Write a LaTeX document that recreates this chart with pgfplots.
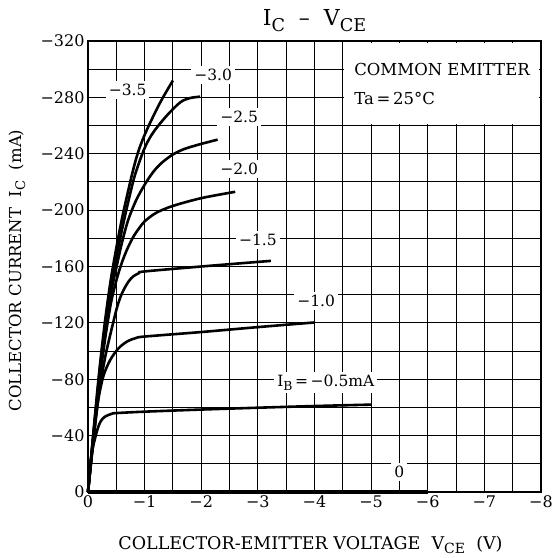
\documentclass[border=0pt]{standalone}
\usepackage{fontspec}
\setmainfont{DejaVu Serif}
\usepackage{graphicx}
\usepackage{pgfplots}
\pgfplotsset{compat=1.18}
\newcommand{\sub}[1]{\raisebox{-0.45ex}{\scalebox{0.8}{#1}}}
\newcommand{\fs}[1]{\fontsize{#1}{#1}\selectfont}
\tikzset{cur/.style={black, solid, line width=2.6bp, smooth, tension=0.5, mark=none}}
\begin{document}
\begin{tikzpicture}
\begin{axis}[name=ax,
 width=453bp, height=451bp, scale only axis,
 xmin=-8, xmax=0, ymin=-320, ymax=0,
 x dir=reverse, y dir=reverse,
 clip=false,
 xtick={0,-1,-2,-3,-4,-5,-6,-7,-8},
 ytick={0,-40,-80,-120,-160,-200,-240,-280,-320},
 minor xtick={-0.5,-1.5,-2.5,-3.5,-4.5,-5.5,-6.5,-7.5},
 minor ytick={-20,-60,-100,-140,-180,-220,-260,-300},
 xticklabels={0,−1,−2,−3,−4,−5,−6,−7,−8},
 yticklabels={0,−40,−80,−120,−160,−200,−240,−280,−320},
 grid=both,
 major grid style={black, line width=1bp},
 minor grid style={black, line width=1bp},
 major tick length=0pt, minor tick length=0pt,
 axis line style={black, line width=1.8bp},
 tick label style={font=\fs{16bp}},
]
% I_B = 0
\addplot[black, line width=3.5bp, sharp plot, mark=none] coordinates {(0,0) (-6,0)};
% I_B = -0.5 mA
\addplot[cur] coordinates {(0,0) (-0.04,-18) (-0.08,-30) (-0.13,-39) (-0.18,-46) (-0.23,-50.5) (-0.3,-53.5) (-0.42,-55.5) (-0.5,-56) (-1,-57) (-2,-58.5) (-3,-59.8) (-4,-61) (-5,-62)};
% I_B = -1.0 mA
\addplot[cur] coordinates {(0,0) (-0.05,-20) (-0.1,-40) (-0.18,-65) (-0.27,-82) (-0.39,-93.5) (-0.54,-102) (-0.7,-107) (-0.85,-109.3) (-1.0,-110.3) (-2,-113.5) (-3,-117) (-4,-120.3)};
% I_B = -1.5 mA
\addplot[cur] coordinates {(0,0) (-0.1,-38) (-0.2,-72) (-0.3,-95) (-0.36,-106) (-0.45,-121) (-0.52,-132) (-0.6,-141) (-0.71,-149) (-0.8,-153) (-0.9,-155.3) (-1.0,-156.5) (-2,-160) (-3.23,-164)};
% I_B = -2.0 mA
\addplot[cur] coordinates {(0,0) (-0.1,-40) (-0.2,-78) (-0.3,-108) (-0.4,-133) (-0.5,-150) (-0.6,-163) (-0.7,-173) (-0.8,-181) (-0.9,-187) (-1.0,-192) (-1.2,-198) (-1.5,-203) (-2.0,-208.5) (-2.6,-213)};
% I_B = -2.5 mA
\addplot[cur] coordinates {(0,0) (-0.1,-42) (-0.2,-80) (-0.3,-112) (-0.4,-140) (-0.5,-159) (-0.6,-177) (-0.71,-193) (-0.85,-207) (-1.0,-218) (-1.15,-227) (-1.3,-233.5) (-1.5,-239.5) (-1.71,-243.5) (-2.0,-247) (-2.29,-250)};
% I_B = -3.0 mA
\addplot[cur] coordinates {(0,0) (-0.1,-43) (-0.2,-83) (-0.3,-117) (-0.4,-145) (-0.5,-166) (-0.6,-186) (-0.7,-204) (-0.83,-225) (-1.0,-244) (-1.15,-255) (-1.39,-267) (-1.63,-276.5) (-1.8,-279.5) (-1.98,-280.5)};
% I_B = -3.5 mA
\addplot[cur] coordinates {(0,0) (-0.1,-44) (-0.2,-86) (-0.3,-121) (-0.4,-150) (-0.5,-173) (-0.6,-194) (-0.7,-212) (-0.8,-229) (-0.9,-243) (-1.04,-257) (-1.27,-276) (-1.5,-292)};
% labels
\tikzset{lbl/.style={fill=white, inner sep=3bp, font=\fs{15.5bp}}}
\node[lbl] at (axis cs:-0.70,-285) {−3.5};
\node[lbl] at (axis cs:-2.21,-296) {−3.0};
\node[lbl] at (axis cs:-2.67,-266) {−2.5};
\node[lbl] at (axis cs:-2.67,-229) {−2.0};
\node[lbl] at (axis cs:-3.0,-179) {−1.5};
\node[lbl] at (axis cs:-4.03,-135.6) {−1.0};
\node[lbl] at (axis cs:-4.2,-77.4) {I\sub{B}\,=\,−0.5mA};
\node[lbl] at (axis cs:-5.5,-14.1) {0};
\fill[white] (axis cs:-4.52,-261.4) rectangle (axis cs:-7.97,-318.6);
\node[anchor=base west, font=\fs{16.5bp}, inner sep=0pt] at (axis cs:-4.7,-295.5) {COMMON EMITTER};
\node[anchor=base west, font=\fs{16.5bp}, inner sep=0pt] at (axis cs:-4.7,-275) {Ta\,=\,25°C};
\end{axis}
\node[anchor=base, font=\fs{22bp}, inner sep=0pt] at ([yshift=15bp]ax.north) {I\sub{C} \ – \ V\sub{CE}};
\node[anchor=center, font=\fs{17.5bp}, inner sep=0pt] at ([xshift=-4bp,yshift=-53bp]ax.south) {COLLECTOR-EMITTER VOLTAGE \ V\sub{CE} \ (V)};
\node[anchor=center, rotate=90, font=\fs{16.5bp}, inner sep=0pt] at ([xshift=-71bp,yshift=-4bp]ax.west) {COLLECTOR CURRENT \ I\sub{C} \ (mA)};
\pgfresetboundingbox
\path ([xshift=-88bp,yshift=-66bp]ax.south west) rectangle ([xshift=16bp,yshift=41bp]ax.north east);
\end{tikzpicture}
\end{document}
